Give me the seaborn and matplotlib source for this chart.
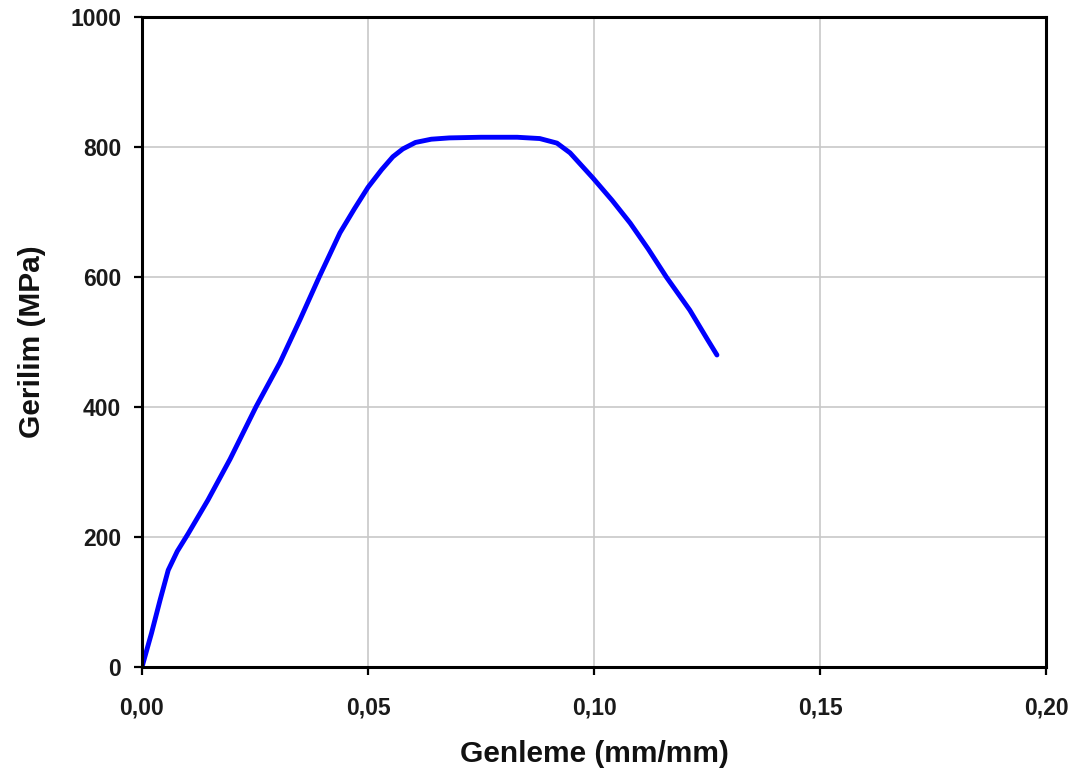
import matplotlib
matplotlib.use("Agg")
import matplotlib.pyplot as plt
import seaborn as sns
import pandas as pd
from matplotlib.ticker import FuncFormatter, MultipleLocator

strain = [0, 0.0021, 0.0040, 0.0058, 0.0078, 0.0102, 0.0146, 0.0195, 0.0252, 0.0305,
          0.0350, 0.0392, 0.0438, 0.0470, 0.0500, 0.0530, 0.0555, 0.0577, 0.0605, 0.0640,
          0.0680, 0.0750, 0.0830, 0.0880, 0.0918, 0.0947, 0.0998, 0.1040, 0.1080, 0.1120,
          0.1160, 0.1212, 0.1250, 0.1272]
stress = [0, 52, 103, 149, 178, 205, 257, 320, 400, 468,
          535, 600, 668, 705, 738, 765, 785, 797, 807, 812,
          814, 815, 815, 813, 806, 791, 752, 718, 683, 643,
          600, 549, 505, 480]

df = pd.DataFrame({"strain": strain, "stress": stress})

sns.set_style("white")
plt.rcParams['font.family'] = ['Liberation Sans', 'DejaVu Sans']

fig = plt.figure(figsize=(10.75, 7.79), dpi=100)
ax = fig.add_axes([142/1075, 1-667/779, (1046-142)/1075, (667-17)/779])

sns.lineplot(data=df, x="strain", y="stress", sort=False, color="#0000ff", lw=3.5, ax=ax)

ax.set_xlim(0, 0.20)
ax.set_ylim(0, 1000)
ax.xaxis.set_major_locator(MultipleLocator(0.05))
ax.yaxis.set_major_locator(MultipleLocator(200))
ax.xaxis.set_major_formatter(FuncFormatter(lambda v, p: f"{v:.2f}".replace(".", ",")))
ax.yaxis.set_major_formatter(FuncFormatter(lambda v, p: f"{v:.0f}"))
ax.grid(True, color="#c8c8c8", lw=1.2)
ax.set_axisbelow(True)
for s in ax.spines.values():
    s.set_color("black")
    s.set_linewidth(2.2)
    s.set_visible(True)
ax.tick_params(direction="out", length=6, width=1.6, color="black", labelsize=16.5,
               labelcolor="#1a1a1a", bottom=True, left=True)
ax.tick_params(axis="x", pad=15)
ax.tick_params(axis="y", pad=9)
for lab in ax.get_xticklabels() + ax.get_yticklabels():
    lab.set_fontweight("bold")
ax.set_xlabel("Genleme (mm/mm)", fontsize=21.5, fontweight="bold", color="#111111")
ax.set_ylabel("Gerilim (MPa)", fontsize=21.5, fontweight="bold", color="#111111")
ax.xaxis.set_label_coords(0.5, (667 - 740) / 650)
ax.yaxis.set_label_coords((46 - 142) / 904, 0.5)

fig.savefig("out.png", dpi=100)
